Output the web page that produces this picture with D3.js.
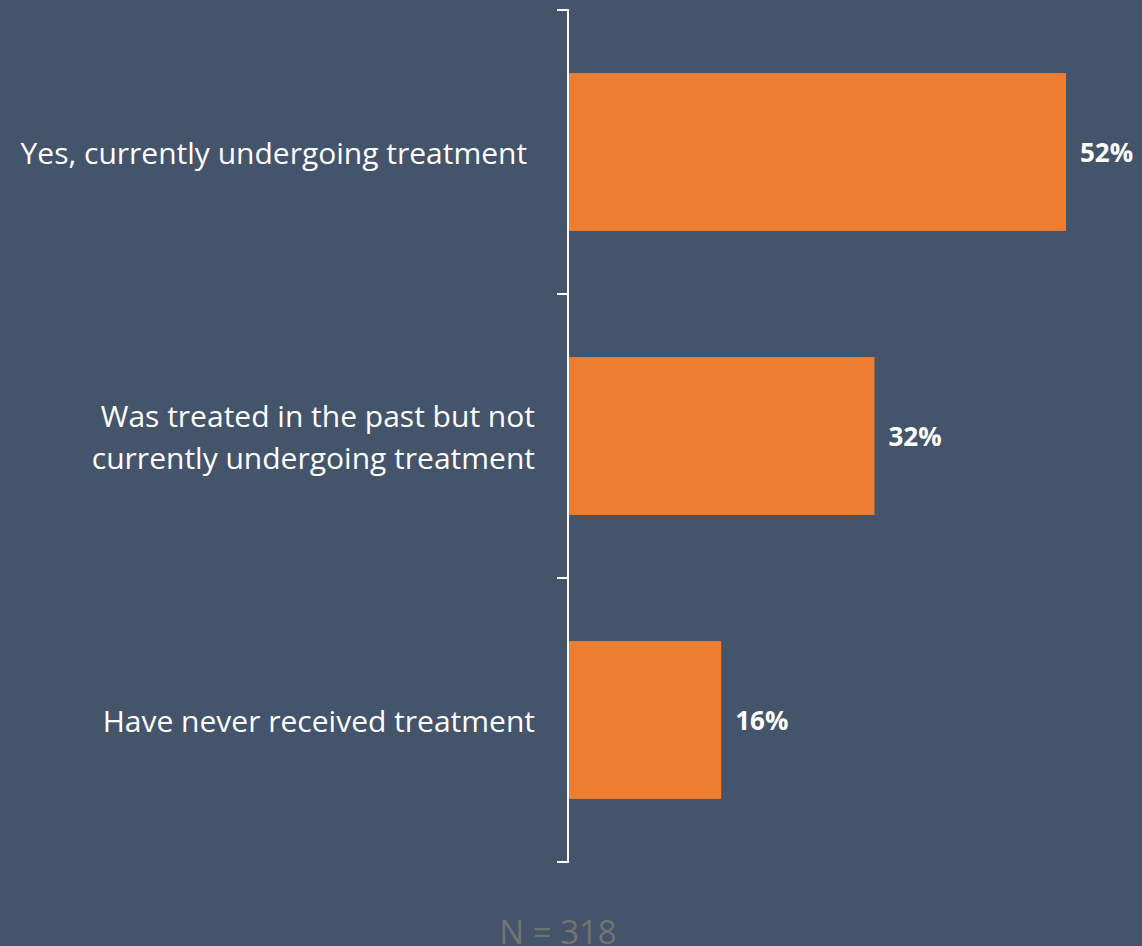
<!DOCTYPE html>
<html>
<head>
<meta charset="utf-8">
<script src="https://cdn.jsdelivr.net/npm/d3@7"></script>
<style>
  html, body { margin: 0; padding: 0; background: #44546A; overflow: hidden; }
  svg { display: block; }
  text { white-space: pre; }
</style>
</head>
<body>
<svg id="chart" width="1142" height="946"></svg>
<script>
// Survey responses on treatment status
const categories = [
  ["Yes, currently undergoing treatment "],
  ["Was treated in the past but not", "currently undergoing treatment"],
  ["Have never received treatment"]
];
const values = [52, 32, 16];
const valueLabels = ["52%", "32%", "16%"];
const sampleNote = "N = 318";

const svg = d3.select("#chart");
const axisX = 568;
const plotTop = 10, plotBottom = 862;

const keys = categories.map((c, i) => i);

const y = d3.scaleBand()
  .domain(keys)
  .range([plotTop, plotBottom])
  .paddingInner(0.444)
  .paddingOuter(0.222);

const x = d3.scaleLinear()
  .domain([0, 52])
  .range([axisX, 1066]);

// Bars
svg.append("g")
  .selectAll("rect")
  .data(values)
  .join("rect")
  .attr("x", x(0))
  .attr("y", (d, i) => y(i))
  .attr("width", d => x(d) - x(0))
  .attr("height", y.bandwidth())
  .attr("fill", "#ED7D31");

// Category axis with boundary ticks between groups
const band = (plotBottom - plotTop) / categories.length;
const g = svg.append("g");
g.append("line")
  .attr("x1", axisX).attr("x2", axisX)
  .attr("y1", plotTop).attr("y2", plotBottom)
  .attr("stroke", "#FFFFFF").attr("stroke-width", 2);
g.selectAll("line.tick")
  .data(d3.range(categories.length + 1))
  .join("line")
  .attr("class", "tick")
  .attr("x1", axisX - 11).attr("x2", axisX + 1)
  .attr("y1", i => plotTop + i * band)
  .attr("y2", i => plotTop + i * band)
  .attr("stroke", "#FFFFFF").attr("stroke-width", 2);

// Category labels
const font = "'Open Sans', 'Liberation Sans', sans-serif";
const lineH = 42;
svg.append("g")
  .selectAll("text")
  .data(categories)
  .join("text")
  .attr("x", 535)
  .attr("y", (d, i) => y(i) + y.bandwidth() / 2 - (d.length - 1) * lineH / 2)
  .attr("text-anchor", "end")
  .attr("dominant-baseline", "central")
  .attr("font-family", font)
  .attr("font-size", 30)
  .attr("fill", "#FFFFFF")
  .each(function (d) {
    const t = d3.select(this);
    d.forEach((line, j) => {
      t.append("tspan")
        .attr("x", 535)
        .attr("dy", j === 0 ? 0 : lineH)
        .text(line);
    });
  });

// Value labels
svg.append("g")
  .selectAll("text")
  .data(values)
  .join("text")
  .attr("x", d => x(d) + 14)
  .attr("y", (d, i) => y(i) + y.bandwidth() / 2)
  .attr("dominant-baseline", "central")
  .attr("font-family", font)
  .attr("font-weight", "bold")
  .attr("font-size", 26)
  .attr("fill", "#FFFFFF")
  .text((d, i) => valueLabels[i]);

// Sample size note
svg.append("text")
  .attr("x", 558)
  .attr("y", 944)
  .attr("text-anchor", "middle")
  .attr("font-family", font)
  .attr("font-size", 33)
  .attr("fill", "#737373")
  .text(sampleNote);
</script>
</body>
</html>
